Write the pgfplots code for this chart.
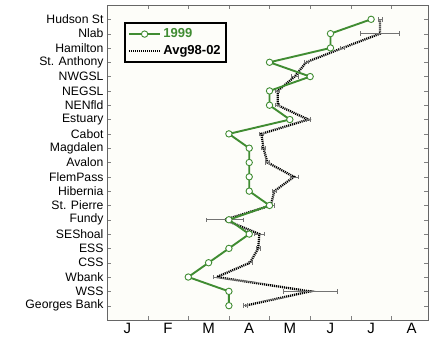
\documentclass[border=0pt]{standalone}
\usepackage{pgfplots}
\pgfplotsset{compat=1.18}
\usepackage{pgfplotstable}
\usepackage{fontspec}
\setmainfont{Liberation Sans}
\definecolor{grn}{RGB}{64,140,50}
\definecolor{bg}{RGB}{253,253,249}
\pgfplotstableread{
y x ex
20 6.72 0.05
19 6.72 0.48
18 5.80 0.05
17 4.90 0.05
16 4.62 0.08
15 4.20 0.05
14 4.20 0.05
13 4.95 0.05
12 3.80 0.05
11 3.85 0.05
10 3.95 0.05
9 4.60 0.10
8 4.12 0.05
7 4.03 0.08
6 2.90 0.45
5 3.75 0.12
4 3.72 0.05
3 3.52 0.05
2 2.70 0.08
1 5.00 0.66
0 3.40 0.05
}\avgdata
\pgfplotstableread{
y x
20 6.5
19 5.5
18 5.5
17 4.0
16 5.0
15 4.0
14 4.0
13 4.5
12 3.0
11 3.5
10 3.5
9 3.5
8 3.5
7 4.0
6 3.0
5 3.5
4 3.0
3 2.5
2 2.0
1 3.0
0 3.0
}\yrdata
\begin{document}
\begin{tikzpicture}
\useasboundingbox (0,0) rectangle (429pt,343pt);
\begin{axis}[
  at={(107pt,23pt)}, anchor=south west,
  scale only axis, width=321pt, height=315pt,
  xmin=0, xmax=7.9, ymin=-1, ymax=21,
  axis background/.style={fill=bg},
  axis line style={draw=black!60, line width=0.8pt},
  xtick={0.5,1.5,...,7.5},
  xticklabels={J,F,M,A,M,J,J,A},
  major x tick style={draw=none},
  minor xtick={1,2,...,7},
  minor tick length=4pt,
  minor x tick style={black!50},
  ytick={0,...,20},
  yticklabels={Georges Bank,WSS,Wbank,CSS,ESS,SEShoal,Fundy,St. Pierre,Hibernia,FlemPass,Avalon,Magdalen,Cabot,Estuary,NENfld,NEGSL,NWGSL,St. Anthony,Hamilton,Nlab,Hudson St},
  y tick style={black!50},
  major tick length=4pt,
  tick align=inside,
  x tick label style={font=\fontsize{15}{15}\selectfont, yshift=0pt},
  y tick label style={font=\fontsize{12.2}{12}\selectfont, xshift=0pt},
  legend style={at={(0.053,0.946)}, anchor=north west, draw=black, line width=1.6pt,
    font=\bfseries\fontsize{13}{13.5}\selectfont, inner xsep=3pt, inner ysep=4pt, row sep=2pt, fill=bg},
  legend cell align=left,
  reverse legend=true,
  legend image code/.code={\draw[mark repeat=2,mark phase=2] plot coordinates {(0cm,0cm) (0.55cm,0cm) (1.1cm,0cm)};},
]
\addplot[black, line width=2.3pt, dash pattern=on 1.1pt off 0.9pt,
  error bars/.cd, x dir=both, x explicit,
  error bar style={black!55, line width=0.6pt, solid},
  error mark options={rotate=90, mark size=2.2pt, black!55, line width=0.6pt, solid}]
  table[x=x, y=y, x error=ex] {\avgdata};
\addlegendentry{Avg98-02}
\addplot[grn, line width=1.9pt, mark=*, mark size=3.2pt,
  mark options={fill=white, draw=grn, line width=0.9pt}]
  table[x=x, y=y] {\yrdata};
\addlegendentry{\textcolor{grn}{1999}}
\end{axis}
\end{tikzpicture}
\end{document}
